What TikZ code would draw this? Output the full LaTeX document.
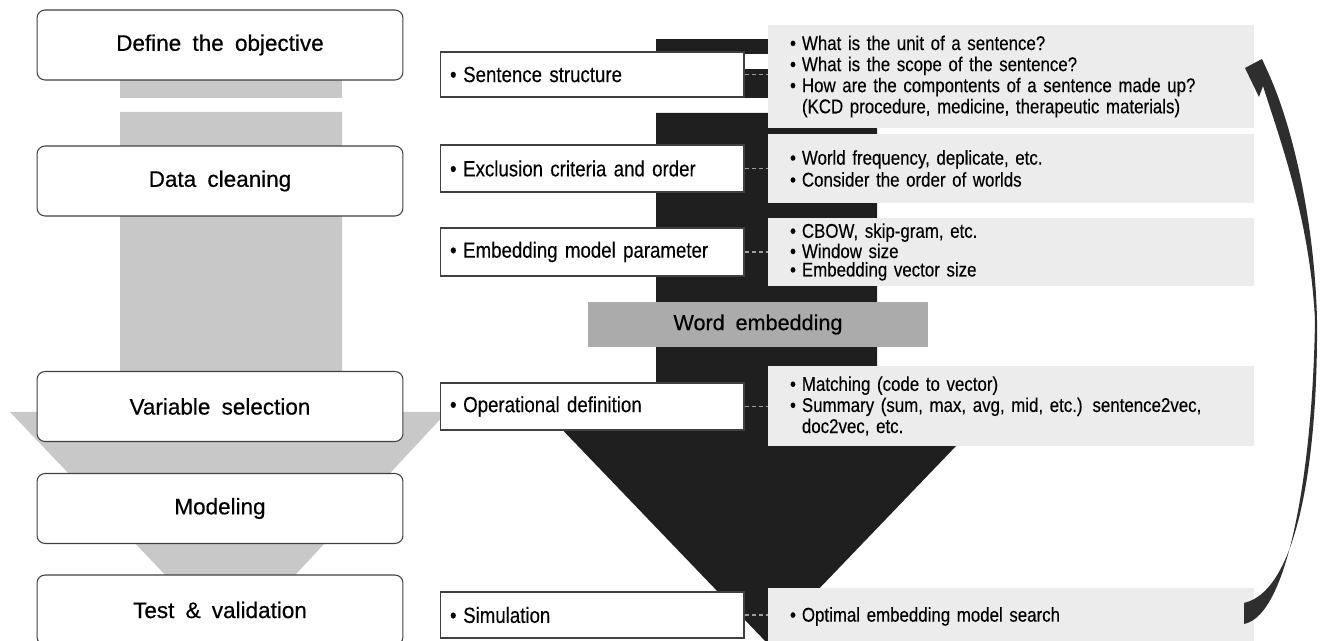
\documentclass[tikz,border=0pt]{standalone}
\usepackage{fontspec}
\usepackage{tikz}
\usepackage{xcolor}
\setmainfont{Liberation Sans}[WordSpace=1.9]
\newfontfamily\stagefont{Liberation Sans}[WordSpace=1.8,FakeBold=0.5]
\newfontfamily\narrowfont{Liberation Sans}[FakeStretch=0.85,WordSpace=2.3,FakeBold=0.2]
\newfontfamily\notefont{Liberation Sans}[FakeStretch=0.85,WordSpace=2.8,FakeBold=0.2]
\definecolor{ink}      {HTML}{1F1F1F}
\definecolor{flowgray} {HTML}{C8C8C8}
\definecolor{notebg}   {HTML}{ECECEC}
\definecolor{barfill}  {HTML}{ABABAB}
\definecolor{edge}     {HTML}{404040}
\definecolor{dashgray} {HTML}{9E9E9E}
\definecolor{loopink}  {HTML}{2E2E2E}
\newcommand{\bitem}{\makebox[0.6em][l]{•}}
\newcommand{\bindent}{\hspace*{0.6em}}
\tikzset{
  stagebox/.style ={draw=edge, fill=white, rounded corners=0.16cm, line width=0.6pt,
                    minimum width=7.32cm, minimum height=1.4cm,
                    font=\fontsize{12.8pt}{14pt}\selectfont\stagefont},
  itembox/.style  ={draw=edge, fill=white, line width=0.6pt,
                    text width=5.68cm, inner xsep=0.2cm, minimum height=0.92cm,
                    align=left, font=\fontsize{12.5pt}{14pt}\selectfont\narrowfont},
  notebox/.style  ={fill=notebg, text width=8.84cm, inner xsep=0.44cm,
                    align=left, font=\fontsize{11.3pt}{12pt}\selectfont\notefont},
  barbox/.style   ={fill=barfill, minimum width=6.8cm, minimum height=0.9cm,
                    font=\fontsize{12.3pt}{14pt}\selectfont\stagefont},
  linkdash/.style ={draw=dashgray, line width=0.6pt, dash pattern=on 2.5pt off 1.5pt},
}
\begin{document}
\begin{tikzpicture}[x=0.02cm,y=-0.02cm]
  \useasboundingbox (0,0) rectangle (1323,641);
  % grey process arrow
  \fill[flowgray] (120,70) rectangle (342,98);
  \fill[flowgray] (120,112) -- (342,112) -- (342,412) -- (447,412) -- (231,644)
    -- (10,412) -- (120,412) -- cycle;
  % black embedding arrow
  \fill[ink] (656,39) rectangle (877,98);
  \fill[white] (744,54) rectangle (768,69);
  \fill[ink] (656,113) -- (877,113) -- (877,395) -- (1005,395) -- (767,643)
    -- (529,395) -- (656,395) -- cycle;

  \node[stagebox] (obj)   at (220,45)    {Define the objective};
  \node[stagebox] (clean) at (220,181)   {Data cleaning};
  \node[stagebox] (vsel)  at (220,406.5) {Variable selection};
  \node[stagebox] (model) at (220,508.5) {Modeling};
  \node[stagebox] (test)  at (220,610)   {Test \& validation};

  \node[itembox,minimum height=0.9cm]  (sent)  at (592,74.5)  {\bitem Sentence structure};
  \node[itembox,minimum height=0.94cm] (excl)  at (592,168.5) {\bitem Exclusion criteria and order};
  \node[itembox,minimum height=0.96cm] (param) at (592,252)   {\bitem Embedding model parameter};
  \node[itembox,minimum height=0.94cm] (oper)  at (592,406.5) {\bitem Operational definition};
  \node[itembox,minimum height=0.92cm] (simu)  at (592,615)   {\bitem Simulation};

  \node[notebox,minimum height=2.06cm] (unit) at (1011,76.5)
    {\bitem What is the unit of a sentence?\\
     \bitem What is the scope of the sentence?\\
     \bitem How are the compontents of a sentence made up?\\
     \bindent(KCD procedure, medicine, therapeutic materials)};
  \node[notebox,minimum height=1.38cm,font=\fontsize{11.3pt}{12.5pt}\selectfont\notefont] (freq) at (1011,168.5)
    {\bitem World frequency, deplicate, etc.\\
     \bitem Consider the order of worlds};
  \node[notebox,minimum height=1.38cm,font=\fontsize{11.3pt}{10.5pt}\selectfont\notefont] (cbow) at (1011,252)
    {\bitem CBOW, skip-gram, etc.\\
     \bitem Window size\\
     \bitem Embedding vector size};
  \node[notebox,minimum height=1.6cm] (match) at (1011,406)
    {\bitem Matching (code to vector)\\
     \bitem Summary (sum, max, avg, mid, etc.) sentence2vec,\\
     \bindent doc2vec, etc.};
  \node[notebox,minimum height=1.14cm] (optim) at (1011,616.5)
    {\bitem Optimal embedding model search};

  \node[barbox] (embed) at (758,324.5) {Word embedding};

  \draw[linkdash] (sent.east)  -- (sent.east -| unit.west);
  \draw[linkdash] (excl.east)  -- (excl.east -| freq.west);
  \draw[linkdash] (param.east) -- (param.east -| cbow.west);
  \draw[linkdash] (oper.east)  -- (oper.east -| match.west);
  \draw[linkdash] (simu.east)  -- (simu.east -| optim.west);

  % feedback arrow
  \fill[loopink] (1245,68) -- (1262,59) -- (1267,70)
    .. controls (1295,130) and (1315,230) .. (1317,320)
    .. controls (1318,450) and (1300,590) .. (1244,603) -- (1244,624)
    .. controls (1290,615) and (1313,460) .. (1315,320)
    .. controls (1310,220) and (1280,140) .. (1263,86) -- (1259,97) -- cycle;
\end{tikzpicture}
\end{document}
